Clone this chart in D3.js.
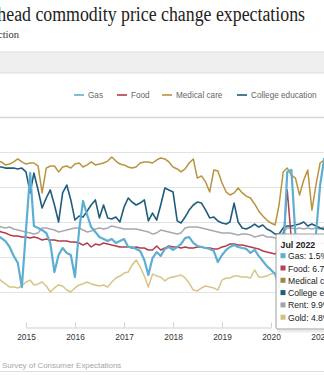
<!DOCTYPE html>
<html><head><meta charset="utf-8">
<script src="https://cdn.jsdelivr.net/npm/d3@7"></script>
<style>
html,body{margin:0;padding:0;background:#fff;overflow:hidden;}
svg{display:block;}
</style></head>
<body>
<script>
// ---- data ----
const seriesNames = ["Gas","Food","Medical care","College education","Rent","Gold"];
const legendNames = ["Gas","Food","Medical care","College education"];
const yearTicks = [2015,2016,2017,2018,2019,2020,2021,2022];
const gas = [5.29,5.11,4.94,4.60,4.09,3.69,2.31,5.57,8.83,5.80,
5.69,5.57,5.40,4.83,3.17,4.14,4.54,4.26,4.14,2.89,
5.57,7.23,6.43,5.74,5.46,5.17,5.06,4.94,5.06,4.83,
4.94,5.06,4.60,4.60,4.49,4.37,3.86,3.00,3.97,4.31,
4.09,4.49,4.60,4.43,4.60,4.77,5.11,5.17,4.83,4.66,
4.60,4.54,4.49,4.37,3.74,4.14,4.43,4.60,4.71,4.60,
4.54,4.49,4.26,4.43,4.09,3.80,3.51,3.29,3.06,2.30,
4.00,8.89,9.00,5.29,5.00,4.90,5.00,5.20,5.30,8.14,
9.69];
const food = [5.57,5.46,5.40,5.29,5.23,5.23,5.17,5.17,5.11,5.17,
5.11,5.00,5.06,5.00,5.00,4.94,4.94,4.94,4.89,4.89,
4.83,4.71,4.83,4.60,4.77,4.71,4.83,4.77,4.71,4.66,
4.60,4.60,4.60,4.54,4.60,4.54,4.54,4.43,4.43,4.66,
4.43,4.54,4.66,4.60,4.60,4.54,4.60,4.54,4.54,4.60,
4.60,4.54,4.54,4.49,4.49,4.60,4.66,4.77,4.77,4.71,
4.71,4.66,4.60,4.54,4.49,4.37,4.31,4.26,4.20,4.43,
5.00,7.86,5.00,4.90,4.80,4.80,4.70,4.70,4.70,4.80,
4.80];
const medical = [9.51,9.46,9.29,9.34,9.46,9.63,9.46,9.34,9.40,9.40,
9.23,7.69,9.11,9.23,9.23,8.89,9.17,9.23,9.11,9.34,
9.40,9.17,9.29,9.46,9.29,9.34,9.40,9.51,9.74,9.51,
9.34,9.29,9.17,9.11,9.17,9.40,9.46,9.46,9.40,9.57,
9.69,9.63,9.46,9.17,9.06,8.89,9.06,9.40,9.63,8.54,
8.66,8.31,7.74,9.00,8.94,8.26,7.74,7.57,7.69,7.97,
7.69,7.51,7.40,7.06,6.66,6.37,6.14,5.97,5.86,7.00,
8.89,9.11,8.71,8.54,7.57,8.43,9.00,6.71,8.14,9.40,
9.57];
const college = [9.17,9.17,9.11,9.11,9.11,9.06,9.11,8.89,7.69,8.83,
7.86,6.83,7.40,7.86,7.00,6.03,7.69,8.14,7.29,6.14,
6.37,6.31,6.66,7.00,7.29,6.26,7.00,6.26,6.20,6.31,
6.03,6.89,7.40,7.17,7.00,7.11,7.29,6.09,6.54,6.14,
7.00,7.97,7.86,7.74,6.09,5.97,6.31,6.71,7.00,7.17,
7.11,6.71,6.26,6.31,6.09,5.97,5.91,6.03,7.11,6.03,
5.69,5.63,5.74,5.91,5.74,5.86,5.63,5.51,5.34,5.34,
5.69,5.80,5.80,5.86,5.91,6.03,5.80,5.91,5.80,5.69,
5.60];
const rent = [5.86,5.74,5.69,5.74,5.63,5.57,5.51,5.46,5.40,5.34,
5.40,5.69,5.69,5.63,5.57,5.46,5.51,5.57,5.63,5.69,
5.69,5.57,5.46,5.51,5.63,5.69,5.63,5.69,5.80,5.74,
5.69,5.63,5.63,5.63,5.63,5.57,5.51,5.46,5.34,5.40,
5.57,5.51,5.46,5.40,5.34,5.40,5.69,5.74,5.74,5.74,
5.69,5.63,5.57,5.51,5.46,5.40,5.40,5.40,5.34,5.29,
5.34,5.34,5.29,5.17,5.23,5.29,5.17,5.17,5.11,5.11,
5.46,5.69,5.69,5.63,5.69,5.63,5.69,5.63,5.69,5.63,
5.74];
const gold = [2.89,2.66,2.49,2.31,2.31,2.26,2.37,2.60,2.71,2.43,
2.49,2.60,2.37,2.03,2.26,2.43,2.37,2.14,2.03,2.26,
2.43,2.49,2.60,2.49,2.43,2.37,2.43,2.31,2.60,2.83,
2.94,3.11,3.17,3.57,3.86,3.46,2.94,2.31,3.06,2.94,
2.89,2.66,2.83,2.89,2.94,3.00,2.83,2.54,2.14,2.09,
2.26,2.37,2.31,2.26,2.14,2.71,2.83,2.83,2.94,2.94,
2.89,2.89,2.83,3.29,2.89,2.89,2.94,3.06,3.11,3.10,
3.20,3.00,2.90,3.00,3.10,3.00,2.90,3.00,3.10,3.00,
3.10];
const tooltipTitle = "Jul 2022";
const tooltipRows = ["Gas: 1.5%","Food: 6.7%","Medical care: 9.6%","College education: 8.3%","Rent: 9.9%","Gold: 4.8%"];

// ---- styles ----
const colors = {"Gas":"#5eaed3","Food":"#b23c4b","Medical care":"#b8953d","College education":"#1e5d7b","Rent":"#a8a9ae","Gold":"#d9c386"};
const tipColors = ["#5eaed3","#b5434f","#9e883e","#1e5d7b","#a3a3a9","#d6be82"];

const W = 324, H = 375;
const svg = d3.select("body").append("svg").attr("width",W).attr("height",H);
svg.append("rect").attr("width",W).attr("height",H).attr("fill","#fff");

// title & subtitle (chart is cropped on the left)
svg.append("text").attr("x",-49).attr("y",21)
  .attr("font-family","'Liberation Serif','DejaVu Serif',serif").attr("font-size",20.5)
  .attr("fill","#222").attr("textLength",354).attr("lengthAdjust","spacingAndGlyphs")
  .text("Year-ahead commodity price change expectations");
svg.append("text").attr("x",19).attr("y",38).attr("text-anchor","end")
  .attr("font-family","'Liberation Serif',serif").attr("font-size",10.5).attr("fill","#333")
  .text("Median expected price change, by selection");

// gray band
svg.append("rect").attr("x",0).attr("y",52).attr("width",W).attr("height",21).attr("fill","#efefef");
svg.append("line").attr("x1",0).attr("x2",W).attr("y1",52).attr("y2",52).attr("stroke","#dcdcdc");
svg.append("line").attr("x1",0).attr("x2",W).attr("y1",73).attr("y2",73).attr("stroke","#dcdcdc");

// scales
const months = d3.timeMonth.range(new Date(2014,5,1), new Date(2021,2,1));
const x = d3.scaleTime().domain([new Date(2015,0,1), new Date(2020,0,1)]).range([26,271]);
const y = d3.scaleLinear().domain([0,12]).range([327.5,117.5]);

// gridlines
const grid = svg.append("g");
[2,4,6,8,10].forEach(v=>{
  grid.append("line").attr("x1",0).attr("x2",W).attr("y1",y(v)).attr("y2",y(v))
    .attr("stroke","#e2e2e2").attr("stroke-width",1);
});
svg.append("line").attr("x1",0).attr("x2",W).attr("y1",y(12)).attr("y2",y(12))
  .attr("stroke","#d6d6d6").attr("stroke-width",1.6);

// legend
const legX = [74,117,162,237];
const leg = svg.append("g");
legendNames.forEach((n,i)=>{
  leg.append("line").attr("x1",legX[i]).attr("x2",legX[i]+10).attr("y1",95).attr("y2",95)
    .attr("stroke",colors[n]).attr("stroke-width",1.6);
  leg.append("text").attr("x",legX[i]+14).attr("y",98).attr("font-family","'Liberation Sans',Arial,sans-serif")
    .attr("font-size",8.2).attr("fill","#666").text(n);
});

// x axis
const ax = svg.append("g").attr("transform",`translate(0,${y(0)})`)
  .call(d3.axisBottom(x).tickValues(yearTicks.map(t=>new Date(t,0,1))).tickFormat(d3.timeFormat("%Y"))
    .tickSizeInner(-5).tickSizeOuter(0).tickPadding(7));
ax.select(".domain").attr("stroke","#cfcfcf");
ax.selectAll(".tick line").attr("stroke","#d0d0d0");
ax.selectAll(".tick text").attr("font-family","'Liberation Sans',Arial,sans-serif").attr("font-size",8.4).attr("fill","#333");

// lines
svg.append("clipPath").attr("id","clip").append("rect").attr("x",0).attr("y",100).attr("width",W).attr("height",240);
const plot = svg.append("g").attr("clip-path","url(#clip)");
const line = d3.line().x((d,i)=>x(months[i])).y(d=>y(d));
const drawOrder = [["Gold",gold,1.5],["Rent",rent,1.5],["Food",food,1.5],["Medical care",medical,1.5],["College education",college,1.6],["Gas",gas,2.2]];
drawOrder.forEach(([n,arr,w])=>{
  plot.append("path").datum(arr).attr("d",line).attr("fill","none")
    .attr("stroke",colors[n]).attr("stroke-width",w).attr("stroke-linejoin","round");
});

// tooltip
const tip = svg.append("g");
tip.append("rect").attr("x",277).attr("y",235).attr("width",110).attr("height",95).attr("rx",2)
  .attr("fill","none").attr("stroke","#000").attr("stroke-opacity",0.08).attr("stroke-width",3).attr("transform","translate(1,1)");
tip.append("rect").attr("x",276).attr("y",234).attr("width",110).attr("height",95).attr("rx",2)
  .attr("fill","#fff").attr("fill-opacity",0.93).attr("stroke","#a0a0a0").attr("stroke-width",1);
tip.append("text").attr("x",280.5).attr("y",247.5).attr("font-family","'Liberation Sans',Arial,sans-serif")
  .attr("font-size",8.8).attr("font-weight","bold").attr("fill","#222").text(tooltipTitle);
tooltipRows.forEach((t,i)=>{
  const yy = 256 + i*12.3;
  tip.append("rect").attr("x",280.5).attr("y",yy-2.8).attr("width",5).attr("height",5).attr("fill",tipColors[i]);
  tip.append("text").attr("x",288).attr("y",yy+3.2).attr("font-family","'Liberation Sans',Arial,sans-serif")
    .attr("font-size",8.6).attr("fill","#222").text(t);
});

// footer
svg.append("text").attr("x",0).attr("y",368).attr("text-anchor","end")
  .attr("font-family","'Liberation Sans',Arial,sans-serif").attr("font-size",7.9).attr("fill","#a6a6a6")
  .text("Source: Federal Reserve Bank of New York, ");
svg.append("text").attr("x",2).attr("y",368)
  .attr("font-family","'Liberation Sans',Arial,sans-serif").attr("font-size",7.9).attr("fill","#a6a6a6")
  .text("Survey of Consumer Expectations");
svg.append("line").attr("x1",0).attr("x2",W).attr("y1",371.5).attr("y2",371.5).attr("stroke","#e0e0e0");
</script>
</body></html>
